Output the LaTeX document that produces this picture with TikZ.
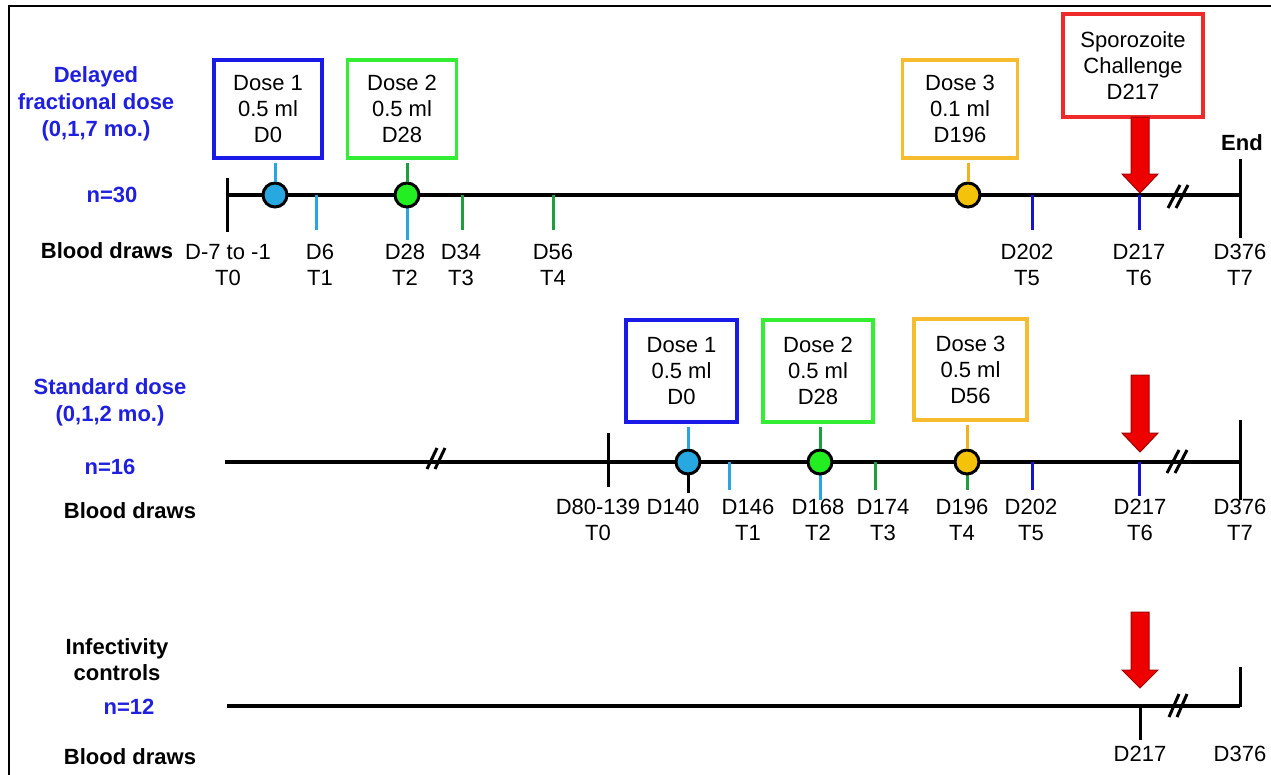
\documentclass[tikz,border=0pt]{standalone}
\usepackage{fontspec}
\setmainfont{Liberation Sans}
\definecolor{tblue}{HTML}{1F1FE0}
\definecolor{bbox}{HTML}{1A1AE8}
\definecolor{lblue}{HTML}{2AA5E2}
\definecolor{cfill}{HTML}{28A8E0}
\definecolor{gbox}{HTML}{33EE33}
\definecolor{gfill}{HTML}{22EE22}
\definecolor{dgreen}{HTML}{1E9E3E}
\definecolor{obox}{HTML}{F7BC2E}
\definecolor{ofill}{HTML}{F5C20A}
\definecolor{otick}{HTML}{F2B21F}
\definecolor{rbox}{HTML}{EE2A2A}
\definecolor{rfill}{HTML}{EE0000}
\definecolor{rdark}{HTML}{A00000}
\definecolor{dblue}{HTML}{1414D2}
\tikzset{
 tline/.style={line width=4pt},
 tk/.style={line width=3pt},
 dosebox/.style={draw, line width=3.5pt, align=center, inner sep=0pt, fill=white},
 dot/.style={circle, draw=black, line width=3pt, minimum size=24pt, inner sep=0pt},
 lbl/.style={align=center, inner sep=0pt},
 grp/.style={align=center, font=\fontsize{22}{27}\selectfont\bfseries, text=tblue, inner sep=0pt},
 bd/.style={align=center, font=\fontsize{22}{26}\selectfont\bfseries, inner sep=0pt},
 redarrow/.style={fill=rfill, draw=rdark, line width=1pt},
 brk/.style={line width=3pt},
 conn/.style={line width=3pt, shorten <=3pt}
}
\begin{document}
\begin{tikzpicture}[x=1pt,y=-1pt,font=\fontsize{22}{26}\selectfont]
\useasboundingbox (0,0) rectangle (1271,774);
% frame
\draw[line width=2.5pt] (9,790) -- (9,6) -- (1290,6);

% ---------------- Row 1 ----------------
\node[grp] (g1) at (96,104) {Delayed\\fractional dose\\(0,1,7 mo.)};
\node[grp] (n1) at (112,195) {n=30};
\node[bd] (bd1) at (107,251) {Blood draws};
\node[bd] (end) at (1242,143) {End};

\draw[tline] (227,195) -- (1240,195);
\draw[tk] (227,178) -- (227,232);
\draw[tk] (1240,159) -- (1240,238);
\draw[brk] (1168,208) -- (1180,185);
\draw[brk] (1176,208) -- (1188,185);

\draw[tk,lblue] (316,195) -- (316,230);
\draw[tk,lblue] (407,195) -- (407,240);
\draw[tk,dgreen] (462,195) -- (462,230);
\draw[tk,dgreen] (553,195) -- (553,230);
\draw[tk,dblue] (1032,195) -- (1032,230);
\draw[tk,dblue] (1139,195) -- (1139,230);

\node[dosebox, draw=bbox, minimum width=108pt, minimum height=98pt] (b11) at (268,109) {Dose 1\\0.5 ml\\D0};
\node[dosebox, draw=gbox, minimum width=109pt, minimum height=98pt] (b12) at (402,109) {Dose 2\\0.5 ml\\D28};
\node[dosebox, draw=obox, minimum width=115pt, minimum height=98pt] (b13) at (960,109) {Dose 3\\0.1 ml\\D196};
\node[dosebox, draw=rbox, minimum width=140pt, minimum height=103pt] (rb1) at (1133,65.5) {Sporozoite\\Challenge\\D217};

\node[dot, fill=cfill] (c11) at (275,195) {};
\node[dot, fill=gfill] (c12) at (407,195) {};
\node[dot, fill=ofill] (c13) at (968,195) {};
\draw[conn,lblue] (c11.north |- b11.south) -- (c11.north);
\draw[conn,dgreen] (c12.north |- b12.south) -- (c12.north);
\draw[conn,otick] (c13.north |- b13.south) -- (c13.north);

\draw[redarrow] (1131,117) -- (1131,174) -- (1122,174) -- (1140,193) -- (1158,174) -- (1149,174) -- (1149,117) -- cycle;

\node[lbl] (l10) at (228,265) {D-7 to -1\\T0};
\node[lbl] (l11) at (320,265) {D6\\T1};
\node[lbl] (l12) at (405,265) {D28\\T2};
\node[lbl] (l13) at (461,265) {D34\\T3};
\node[lbl] (l14) at (553,265) {D56\\T4};
\node[lbl] (l15) at (1027,265) {D202\\T5};
\node[lbl] (l16) at (1139,265) {D217\\T6};
\node[lbl] (l17) at (1240,265) {D376\\T7};

% ---------------- Row 2 ----------------
\node[grp] (g2) at (110,402) {Standard dose\\(0,1,2 mo.)};
\node[grp] (n2) at (110,467) {n=16};
\node[bd] (bd2) at (130,511) {Blood draws};

\draw[tline] (225,462) -- (1240,462);
\draw[brk] (427,469) -- (437,448);
\draw[brk] (435,469) -- (445,448);
\draw[tk] (608,433) -- (608,487);
\draw[tk] (688,462) -- (688,493);
\draw[tk,lblue] (729,462) -- (729,490);
\draw[tk,lblue] (820,462) -- (820,500);
\draw[tk,dgreen] (875,462) -- (875,490);
\draw[tk,dgreen] (967,462) -- (967,490);
\draw[tk,dblue] (1032,462) -- (1032,490);
\draw[tk,dblue] (1139,462) -- (1139,496);
\draw[brk] (1167,473) -- (1179,450);
\draw[brk] (1175,473) -- (1187,450);
\draw[tk] (1240,420) -- (1240,500);

\node[dosebox, draw=bbox, minimum width=111pt, minimum height=102pt] (b21) at (681.5,371) {Dose 1\\0.5 ml\\D0};
\node[dosebox, draw=gbox, minimum width=110pt, minimum height=102pt] (b22) at (818,371) {Dose 2\\0.5 ml\\D28};
\node[dosebox, draw=obox, minimum width=113pt, minimum height=101pt] (b23) at (970.5,369.5) {Dose 3\\0.5 ml\\D56};

\node[dot, fill=cfill] (c21) at (688,462) {};
\node[dot, fill=gfill] (c22) at (820,462) {};
\node[dot, fill=ofill] (c23) at (967,462) {};
\draw[conn,lblue] (c21.north |- b21.south) -- (c21.north);
\draw[conn,dgreen] (c22.north |- b22.south) -- (c22.north);
\draw[conn,otick] (c23.north |- b23.south) -- (c23.north);

\draw[redarrow] (1131,375) -- (1131,433) -- (1122,433) -- (1140,452) -- (1158,433) -- (1149,433) -- (1149,375) -- cycle;

\node[lbl] (l20) at (598,520) {D80-139\\T0};
\node[lbl] (l21) at (673,507) {D140};
\node[lbl] (l22) at (748,520) {D146\\T1};
\node[lbl] (l23) at (818,520) {D168\\T2};
\node[lbl] (l24) at (883,520) {D174\\T3};
\node[lbl] (l25) at (962,520) {D196\\T4};
\node[lbl] (l26) at (1031,520) {D202\\T5};
\node[lbl] (l27) at (1140,520) {D217\\T6};
\node[lbl] (l28) at (1240,520) {D376\\T7};

% ---------------- Row 3 ----------------
\node[bd] (g3) at (117,660) {Infectivity\\controls};
\node[grp] (n3) at (129,707) {n=12};
\node[bd] (bd3) at (130,757) {Blood draws};

\draw[tline] (227,706) -- (1240,706);
\draw[tk] (1140,706) -- (1140,740);
\draw[brk] (1169,717) -- (1179,694);
\draw[brk] (1177,717) -- (1187,694);
\draw[tk] (1240,667) -- (1240,707);

\draw[redarrow] (1131,612) -- (1131,670) -- (1122,670) -- (1140,688) -- (1158,670) -- (1149,670) -- (1149,612) -- cycle;

\node[lbl] (l31) at (1140,754) {D217};
\node[lbl] (l32) at (1240,754) {D376};
\end{tikzpicture}
\end{document}
